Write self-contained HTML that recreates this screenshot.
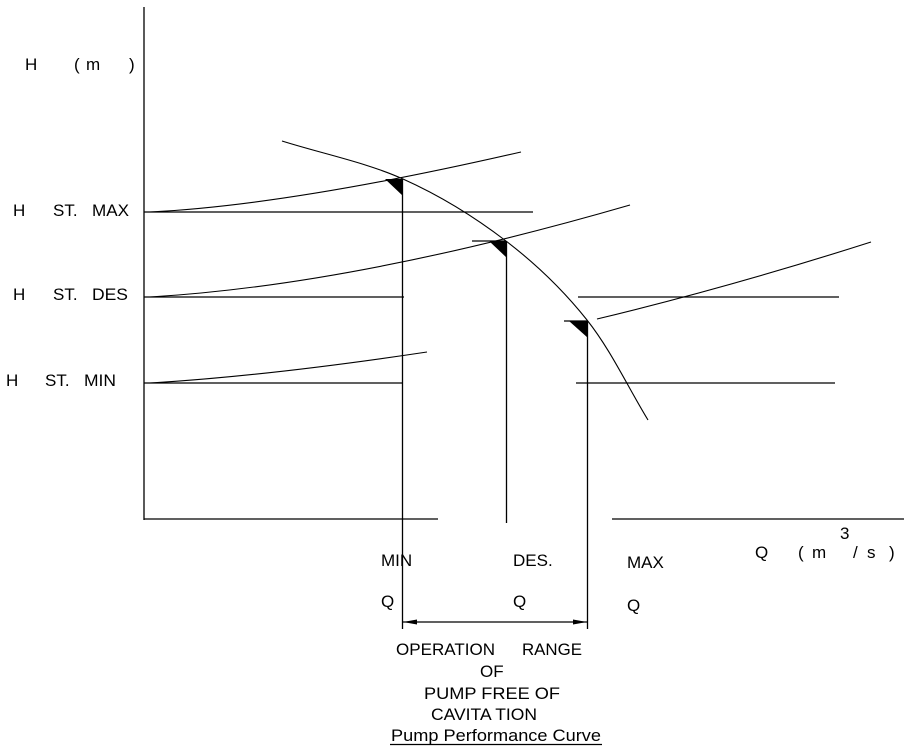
<!DOCTYPE html>
<html>
<head>
<meta charset="utf-8">
<style>
  html, body { margin: 0; padding: 0; background: #fff; }
  body { width: 908px; height: 749px; overflow: hidden; }
  svg { display: block; }
  text { font-family: "Liberation Sans", Arial, sans-serif; font-size: 17px; fill: #000; }
</style>
</head>
<body>
<svg width="908" height="749" viewBox="0 0 908 749" xmlns="http://www.w3.org/2000/svg">
  <rect x="0" y="0" width="908" height="749" fill="#fff"/>

  <!-- Axes -->
  <g stroke="#000" stroke-width="1.3" fill="none">
    <line x1="144" y1="7" x2="144" y2="520"/>
    <line x1="144" y1="519" x2="438" y2="519"/>
    <line x1="612" y1="519" x2="904" y2="519"/>

    <!-- static head horizontals -->
    <line x1="144" y1="212" x2="533" y2="212"/>
    <line x1="144" y1="297" x2="404" y2="297"/>
    <line x1="144" y1="383" x2="402" y2="383"/>
    <line x1="578" y1="297" x2="839" y2="297"/>
    <line x1="576" y1="383" x2="835" y2="383"/>

    <!-- short horizontals at operating points -->
    <line x1="472" y1="241" x2="506" y2="241"/>
    <line x1="564" y1="321" x2="587" y2="321"/>

    <!-- verticals -->
    <line x1="402.5" y1="179" x2="402.5" y2="629"/>
    <line x1="506.5" y1="241" x2="506.5" y2="523"/>
    <line x1="587.5" y1="321" x2="587.5" y2="629"/>

    <!-- dimension line -->
    <line x1="403" y1="622" x2="587" y2="622"/>
  </g>

  <!-- Curves -->
  <g stroke="#000" stroke-width="1.1" fill="none">
    <!-- pump curve -->
    <path d="M282,141 C322.3,153.7 365.7,162.3 403,179 C440.3,195.7 475.3,217.5 506,241 C536.7,264.5 563.3,290.2 587,320 C610.7,349.8 627.7,386.7 648,420"/>
    <!-- system curves -->
    <path d="M150,212 Q290.6,205 521,152"/>
    <path d="M150,297 Q355,284.7 630,205"/>
    <path d="M150,383 Q267,376 427,352"/>
    <path d="M597,319 Q730,287 871,242"/>
  </g>

  <!-- Filled triangles -->
  <g fill="#000" stroke="none">
    <polygon points="385,179 403,179 403,196"/>
    <polygon points="489,241 507,241 507,258"/>
    <polygon points="569,321 588,321 588,338"/>
    <!-- arrowheads -->
    <polygon points="403,622 417,619.5 417,624.5"/>
    <polygon points="587,622 573,619.5 573,624.5"/>
  </g>

  <!-- Y axis label -->
  <text x="25" y="70">H</text>
  <text x="74" y="70">(</text>
  <text x="86" y="70">m</text>
  <text x="129" y="70">)</text>

  <!-- static head labels -->
  <text x="13" y="216">H</text>
  <text x="53" y="216">ST.</text>
  <text x="92" y="216" textLength="37" lengthAdjust="spacingAndGlyphs">MAX</text>

  <text x="13" y="300">H</text>
  <text x="53" y="300">ST.</text>
  <text x="92" y="300" textLength="36" lengthAdjust="spacingAndGlyphs">DES</text>

  <text x="6" y="386">H</text>
  <text x="45" y="386">ST.</text>
  <text x="84" y="386" textLength="32" lengthAdjust="spacingAndGlyphs">MIN</text>

  <!-- Q labels -->
  <text x="381" y="566">MIN</text>
  <text x="381" y="607">Q</text>
  <text x="513" y="566">DES.</text>
  <text x="513" y="607">Q</text>
  <text x="627" y="568">MAX</text>
  <text x="627" y="611">Q</text>

  <!-- X axis label -->
  <text x="755" y="558">Q</text>
  <text x="798" y="558">(</text>
  <text x="812" y="558">m</text>
  <text x="840" y="539">3</text>
  <text x="853" y="558">/</text>
  <text x="867" y="558">s</text>
  <text x="889" y="558">)</text>

  <!-- Operation range text -->
  <text x="396" y="655" textLength="99" lengthAdjust="spacingAndGlyphs">OPERATION</text>
  <text x="522" y="655" textLength="60" lengthAdjust="spacingAndGlyphs">RANGE</text>
  <text x="480" y="677">OF</text>
  <text x="424" y="699" textLength="136" lengthAdjust="spacingAndGlyphs">PUMP FREE OF</text>
  <text x="431" y="720" textLength="106" lengthAdjust="spacingAndGlyphs">CAVITA TION</text>
  <text x="391" y="741" textLength="210" lengthAdjust="spacingAndGlyphs">Pump Performance Curve</text>
  <line x1="390" y1="744.5" x2="602" y2="744.5" stroke="#000" stroke-width="1.2"/>
</svg>
</body>
</html>
